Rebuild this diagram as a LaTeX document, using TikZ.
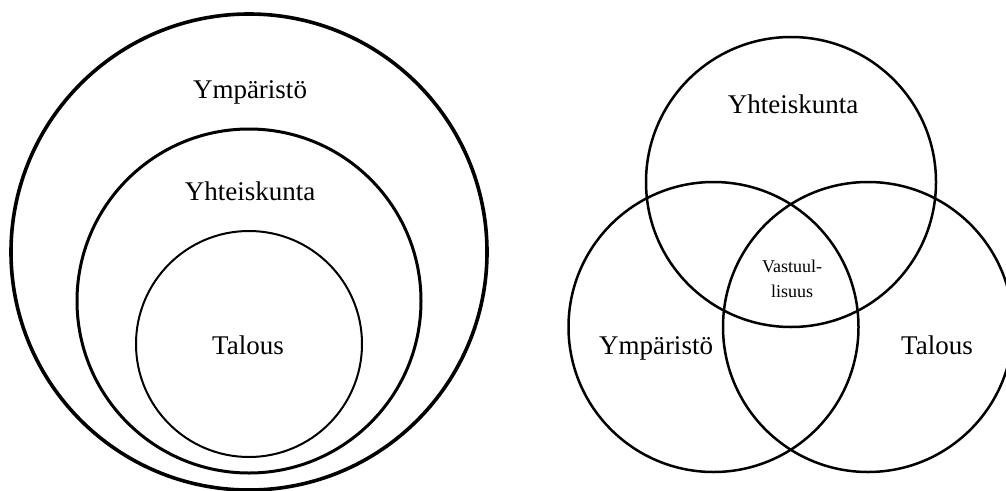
\documentclass[tikz,border=0pt]{standalone}
\usepackage{fontspec}
\setmainfont{Liberation Serif}
\begin{document}
\begin{tikzpicture}[x=1pt,y=-1pt,
  ring/.style={circle, draw, inner sep=0pt, outer sep=0pt},
  bigtxt/.style={font=\fontsize{27}{32}\selectfont, anchor=base, inner sep=0pt},
  smalltxt/.style={font=\fontsize{18}{24}\selectfont, anchor=base, inner sep=0pt}]
\useasboundingbox (0,0) rectangle (1006,490);
% left: nested circles
\node[ring, line width=3.6pt, minimum size=476pt] (env) at (249,252) {};
\node[ring, line width=3pt, minimum size=344pt] (soc) at (249,301) {};
\node[ring, line width=2pt, minimum size=226pt] (eco) at (249,344) {};
\node[bigtxt] (envl) at (250,98) {Ympäristö};
\node[bigtxt] (socl) at (250,200) {Yhteiskunta};
\node[bigtxt] (ecol) at (248,354) {Talous};
% right: Venn diagram
\node[ring, line width=2.5pt, minimum size=290pt] (vsoc) at (791,182) {};
\node[ring, line width=2.5pt, minimum size=290pt] (venv) at (713.5,327) {};
\node[ring, line width=2.5pt, minimum size=290pt] (veco) at (868,327) {};
\node[bigtxt] (vsocl) at (793,113) {Yhteiskunta};
\node[bigtxt] (venvl) at (656,354) {Ympäristö};
\node[bigtxt] (vecol) at (937,354) {Talous};
\node[smalltxt] (resp1) at (792,272) {Vastuul-};
\node[smalltxt] (resp2) at (792,297) {lisuus};
\end{tikzpicture}
\end{document}
